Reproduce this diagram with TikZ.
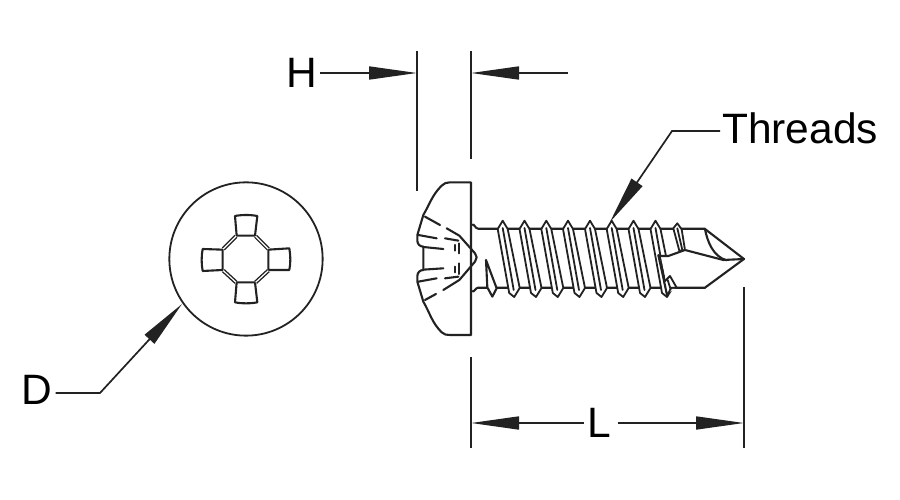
\documentclass[tikz,border=0pt]{standalone}
\usepackage{fontspec}
\setmainfont{Liberation Sans}
\usetikzlibrary{arrows.meta}
\definecolor{ink}{HTML}{222222}
\tikzset{
  inkline/.style={draw=ink,line width=2.1pt,line join=round,line cap=round},
  threadline/.style={draw=ink,line width=1.8pt,line join=round,line cap=round},
  octline/.style={draw=ink,line width=1.4pt,double=white,double distance=1.2pt},
  dimline/.style={draw=ink,line width=1.7pt},
  bigtip/.style={-{Triangle[length=48pt,width=13pt,fill=ink]},draw=ink,line width=1.7pt},
  lab/.style={font=\fontsize{42.5}{42.5}\selectfont,text=black,inner sep=0pt,anchor=center},
}
\begin{document}
\begin{tikzpicture}[x=1pt,y=-1pt]
\useasboundingbox (0,0) rectangle (900,500);
\fill[white] (0,0) rectangle (900,500);

% ---- labels and free ends
\node[lab] (H) at (301.5,73) {H};
\node[lab] (D) at (37,390) {D};
\node[lab] (L) at (599,423) {L};
\node[lab,anchor=west] (T) at (722,128.5) {Threads};
\coordinate (hA) at (417,73);
\coordinate (hB) at (471,73);
\coordinate (hC) at (568,73);
\coordinate (e1a) at (417,51);
\coordinate (e1b) at (417,191);
\coordinate (e2a) at (471,51);
\coordinate (e2b) at (471,159);
\coordinate (e3a) at (471,357);
\coordinate (e3b) at (471,448);
\coordinate (e4a) at (744,287);
\coordinate (e4b) at (744,448);
\coordinate (lA) at (471,423);
\coordinate (lB) at (744,423);
\coordinate (tK) at (672,131);
\coordinate (tT) at (610,222);
\coordinate (dK) at (100,393);
\coordinate (dT) at (182,304);

% ---- dimensions
\draw[dimline] (e1a) -- (e1b);
\draw[dimline] (e2a) -- (e2b);
\draw[dimline] (e3a) -- (e3b);
\draw[dimline] (e4a) -- (e4b);
\draw[bigtip] (H.east) ++(3,0) -- (hA);
\draw[bigtip] (hC) -- (hB);
\draw[bigtip] (L.west) ++(-3,0) -- (lA);
\draw[bigtip] (L.east) ++(6.5,0) -- (lB);
\draw[bigtip] (T.west) ++(-2,2.5) -- (tK) -- (tT);
\draw[bigtip] (D.east) ++(3,3) -- (dK) -- (dT);

% ---- end view
\begin{scope}[shift={(160,175)},x=0.3333pt,y=-0.3333pt]
  \draw[inkline,line width=1.8pt] (258,252) circle[radius=230];
  % slots
  \draw[inkline] (230,182) -- (225,123) .. controls (245,119) and (272,119) .. (292,123) -- (285,182) -- cycle;
  \draw[inkline] (230,322) -- (225,382) .. controls (245,386) and (272,386) .. (292,382) -- (285,322) -- cycle;
  \draw[inkline] (188,224) -- (128,222) .. controls (124,242) and (124,268) .. (128,288) -- (188,285) -- cycle;
  \draw[inkline] (325,224) -- (388,220) .. controls (392,242) and (392,265) .. (388,285) -- (325,285) -- cycle;
  % double octagon edges
  \draw[octline] (228,184) -- (190,222);
  \draw[octline] (287,184) -- (325,222);
  \draw[octline] (325,287) -- (287,322);
  \draw[octline] (190,287) -- (228,322);
\end{scope}

% ---- shaft
\draw[inkline] (472.7,225) to[out=80,in=180] (478,228.7) -- (705,228.7);
\draw[inkline] (472.7,291) to[out=-80,in=180] (478,287.7) -- (705,287.7);

% ---- threads
\foreach \x in {502.7,524.5,546.3,568,590,611.7,633.5,655.5}{
  \filldraw[threadline,fill=white]
     (\x,220.7) -- (\x-5,229) -- (\x+6.5,293) -- (\x+11.5,297) -- (\x+17,288)
     -- (\x+5,229) -- cycle;
  \draw[threadline] (\x,228) -- (\x+11,290);
}

% ---- drill point, flute
\begin{scope}[shift={(570,200)},x=0.3333pt,y=-0.3333pt]
  \fill[white] (272,167) -- (295,168) -- (345,150) -- (460,180)
     -- (522,177) -- (405,263) -- (320,263) -- (296,278) -- cycle;
  \draw[inkline] (265,165) -- (292,288);
  \draw[inkline] (265,168) -- (295,168) -- (345,150) -- (460,180) -- (522,177);
  \draw[inkline] (405,87) -- (522,177) -- (405,263) -- (300,263);
  \draw[inkline] (405,87) .. controls (412,125) and (430,170) .. (470,181);
  % small upper thread
  \filldraw[threadline,fill=white] (322,70) -- (310,85) -- (328,152) -- (345,150) -- (335,88) -- cycle;
  \draw[threadline] (322,85) -- (337,150);
  % small lower thread
  \filldraw[threadline,fill=white] (292,288) -- (283,245) -- (300,228) -- (320,263) -- (303,263) -- cycle;
  \draw[threadline] (293,240) -- (302,268);
\end{scope}

% ---- flute stub near head
\begin{scope}[shift={(400,170)},x=0.3333pt,y=-0.3333pt]
  \filldraw[inkline,fill=white] (258,270) -- (262,352) -- (277,380) -- (290,355) -- cycle;
  % head
  \filldraw[inkline,fill=white] (213,37) -- (150,37) to[out=180,in=45] (125,47)
     to[out=225,in=60] (70,135) -- (52,195) -- (52,212) to[out=-90,in=180] (70,230)
     -- (70,300) to[out=180,in=90] (52,318) -- (52,335) -- (70,395)
     to[out=-60,in=135] (125,487) to[out=-45,in=180] (150,495) -- (213,495) -- cycle;
  % inner recess edge
  \draw[inkline] (140,175) -- (178,197) -- (225,250) -- (230,262) -- (225,275) -- (178,330) -- (130,360);
  % dashes
  \draw[inkline] (75,140) -- (120,165);
  \draw[inkline] (55,195) -- (110,205);
  \draw[inkline] (135,205) -- (175,212);
  \draw[inkline] (70,231) -- (130,237);
  \draw[inkline] (165,225) -- (165,242);
  \draw[inkline] (178,220) -- (178,250);
  \draw[inkline] (75,390) -- (108,372);
  \draw[inkline] (55,335) -- (110,325);
  \draw[inkline] (135,325) -- (175,320);
  \draw[inkline] (70,299) -- (130,295);
  \draw[inkline] (165,290) -- (165,307);
  \draw[inkline] (178,280) -- (178,312);
\end{scope}
\end{tikzpicture}
\end{document}
